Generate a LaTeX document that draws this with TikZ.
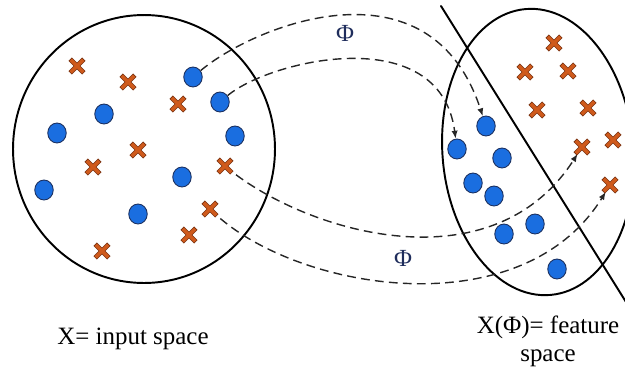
\documentclass[tikz,border=0pt]{standalone}
\usepackage{fontspec}
\setmainfont{Liberation Serif}
\usetikzlibrary{arrows.meta,shapes.geometric}

\definecolor{dotblue}{HTML}{1A6EE0}
\definecolor{dotedge}{HTML}{1B2F5E}
\definecolor{xorange}{HTML}{CF5A1C}
\definecolor{xedge}{HTML}{7A3210}
\definecolor{phinavy}{HTML}{1F2D5C}

\begin{document}
\begin{tikzpicture}[
        x=0.02cm,
        y=-0.02cm,
        line cap=round,
        line join=round,
        >={Latex[length=4.5pt,width=3.5pt]},
        space/.style={draw, line width=1.1pt, ellipse, inner sep=0pt},
        bdot/.style={ellipse, draw=dotedge, fill=dotblue, line width=0.5pt,
            minimum width=0.37cm, minimum height=0.4cm, inner sep=0pt},
        xnode/.style={rectangle, minimum size=0.26cm, inner sep=0pt},
        xout/.style={draw=xedge, line width=2.8pt, line cap=butt},
        xin/.style={draw=xorange, line width=1.9pt, line cap=butt},
        phimap/.style={dashed, dash pattern=on 5pt off 3pt, line width=0.8pt,
            black!85, line cap=butt},
        phi/.style={text=phinavy, font=\fontsize{14}{16}\selectfont},
        lbl/.style={font=\fontsize{14.2}{15.8}\selectfont, align=center}
    ]

    \useasboundingbox (0,0) rectangle (625,369);

    % the two spaces
    \node[space, minimum width=5.24cm, minimum height=5.36cm] (inspace) at (144,149) {};
    \node[space, minimum width=3.82cm, minimum height=5.74cm, rotate=5] (ftspace) at (538,152) {};
    \draw[line width=1.1pt] (441,6) -- (626,302);

    % points of the input space
    \foreach \nm/\px/\py in {a1/193/77, a2/220/102, a3/104/114, a4/57/133,
        a5/235/136, a6/182/177, a7/44/190, a8/138/214,
        b1/486/126, b2/457/149, b3/502/158, b4/473/183,
        b5/494/196, b6/535/224, b7/504/234, b8/557/269}
    \node[bdot] (\nm) at (\px,\py) {};

    \foreach \nm/\px/\py in {p1/77/66, p2/128/82, p3/178/104, p4/138/150,
        p5/93/167, p6/225/166, p7/210/209, p8/189/235, p9/102/251,
        q1/554/43, q2/525/72, q3/568/71, q4/537/110, q5/588/108,
        q6/582/147, q7/613/140, q8/610/185}
    \node[xnode] (\nm) at (\px,\py) {};

    % the map Phi
    \draw[phimap, ->] (a1) .. controls (255,25) and (430,-45) .. (b1);
    \draw[phimap, ->] (a2) .. controls (270,60) and (440,20) .. (b2);
    \draw[phimap, ->] (p6.center) .. controls (300,230) and (490,290) .. (q6);
    \draw[phimap, ->] (p7.center) .. controls (290,290) and (520,330) .. (q8);

    \node[phi] (phitop) at (345,33) {Φ};
    \node[phi] (phibot) at (403,258) {Φ};

    % crosses on top
    \foreach \nm in {p1,p2,p3,p4,p5,p6,p7,p8,p9,q1,q2,q3,q4,q5,q6,q7,q8}
    \path[xout] (\nm.north west) -- (\nm.south east)
        (\nm.north east) -- (\nm.south west);
    \foreach \nm in {p1,p2,p3,p4,p5,p6,p7,p8,p9,q1,q2,q3,q4,q5,q6,q7,q8}
    \path[xin] ([shift={(0.6,0.6)}]\nm.north west) -- ([shift={(-0.6,-0.6)}]\nm.south east)
        ([shift={(-0.6,0.6)}]\nm.north east) -- ([shift={(0.6,-0.6)}]\nm.south west);

    \node[lbl] (inlbl) at (133,339) {X= input space};
    \node[lbl] (ftlbl) at (548,341) {X(Φ)= feature\\space};

\end{tikzpicture}
\end{document}
